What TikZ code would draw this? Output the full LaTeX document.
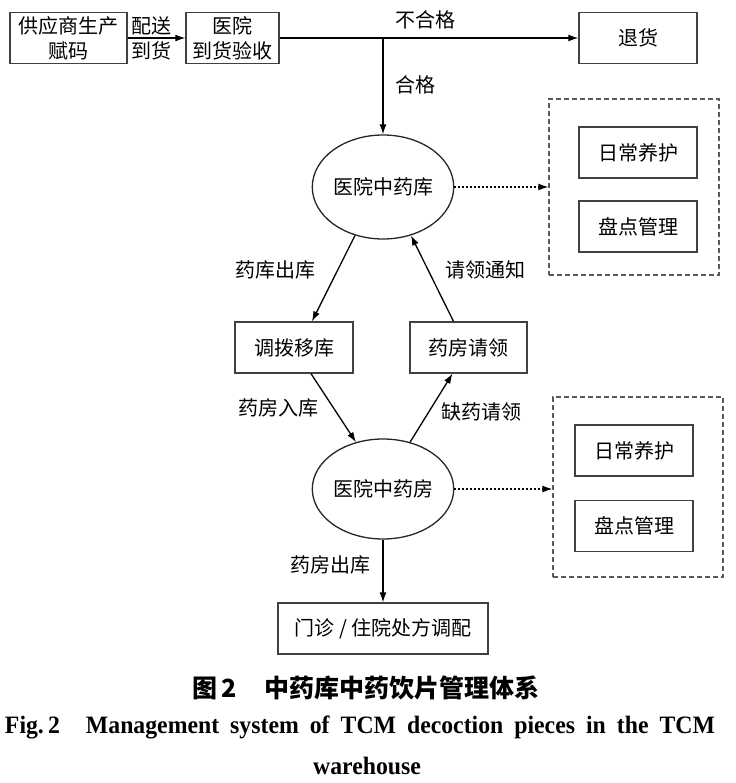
\documentclass[tikz,border=0pt]{standalone}
\usepackage{fontspec}
\setmainfont{Liberation Serif}
\newfontfamily\cjk{Noto Sans CJK SC}
\newfontfamily\capfont[FakeStretch=0.95]{Liberation Serif}
\usetikzlibrary{shapes.geometric,arrows.meta}
\tikzstyle{box}=[rectangle,draw=black!75,line width=1.3pt,minimum height=51pt,inner sep=0pt,align=center]
\tikzstyle{store}=[ellipse,draw=black!85,line width=1.3pt,minimum width=132pt,minimum height=104pt,inner sep=0pt]
\tikzstyle{group}=[rectangle,draw=black!65,line width=1.2pt,dash pattern=on 5pt off 3pt,minimum width=170pt,inner sep=0pt]
\tikzstyle{lbl}=[inner sep=0pt,align=center]
\tikzstyle{dots}=[line width=1.4pt,dash pattern=on 2pt off 2pt]

\begin{document}
\begin{tikzpicture}[x=1pt,y=-1pt,font=\cjk\fontsize{20}{25}\selectfont,line width=1.3pt,>={Latex[length=10pt,width=7pt]}]
\useasboundingbox (0,0) rectangle (735,783);
% top row
\node[box, minimum width=117pt] at (68.5, 38) (sup) {供应商生产\\赋码};
\node[box, minimum width=93pt] at (232.5, 38) (ys) {医院\\到货验收};
\node[box, minimum width=118pt] at (638, 38) (th) {退货};
\node[lbl] at (151.5, 38) (psdh) {配送\\到货};
\node[lbl] at (425, 20) (bhg) {不合格};
\node[lbl, anchor = west] at (395, 85) (hg) {合格};
\coordinate (jn) at (383, 38);
% warehouse
\node[store] at (383, 187) (e1) {医院中药库};
\node[group, minimum height=176pt] at (634, 187) (g1) {};
\node[box, minimum width=118pt] at (638, 152.5) (rc1) {日常养护};
\node[box, minimum width=118pt] at (638, 226.5) (pd1) {盘点管理};
% middle
\node[box, minimum width=118pt] at (294, 347.5) (tb) {调拨移库};
\node[box, minimum width=117pt] at (468.5, 347.5) (yf) {药房请领};
\node[lbl] at (275, 270) (ykck) {药库出库};
\node[lbl] at (485, 270) (qltz) {请领通知};
\node[lbl] at (278, 408) (yfrk) {药房入库};
\node[lbl] at (481, 412) (qyql) {缺药请领};
% pharmacy
\node[store, minimum height=100pt] at (383, 489) (e2) {医院中药房};
\node[group, minimum height=180pt] at (638, 487) (g2) {};
\node[box, minimum width=118pt] at (634, 450.5) (rc2) {日常养护};
\node[box, minimum width=118pt] at (634, 526) (pd2) {盘点管理};
\node[lbl] at (330, 565) (yfck) {药房出库};
\node[box, minimum width=210pt] at (383, 628.5) (mz) {门诊 / 住院处方调配};
% arrows
\draw[->] (sup) edge (ys);
\draw[->] (ys.east) -- (th.west);
\draw[->] (jn) -- (e1.north);
\draw[->, dots] (e1.east) -- (g1.west);
\draw[->] (e1.240) -- ([xshift=18pt]tb.north);
\draw[->] ([xshift=-15pt]yf.north) -- (e1.300);
\draw[->] ([xshift=17pt]tb.south) -- (e2.120);
\draw[->] (e2.60) -- ([xshift=-16pt]yf.south);
\draw[->, dots] (e2.east) -- (e2.east -| g2.west);
\draw[->] (e2.south) -- (mz.north);
% caption
\node[lbl] at (366, 688) (cap) {\bfseries\fontsize{25}{30}\selectfont 图\,2\hspace{1.1em}中药库中药饮片管理体系};
\node[lbl] at (360, 727) (capen) {\capfont\bfseries\fontsize{25}{30}\selectfont\makebox[710pt][s]{Fig.\,2\hspace{0.6em} Management system of TCM decoction pieces in the TCM}};
\node[lbl] at (367, 766) (capw) {\capfont\bfseries\fontsize{25}{30}\selectfont warehouse};
\end{tikzpicture}
\end{document}
